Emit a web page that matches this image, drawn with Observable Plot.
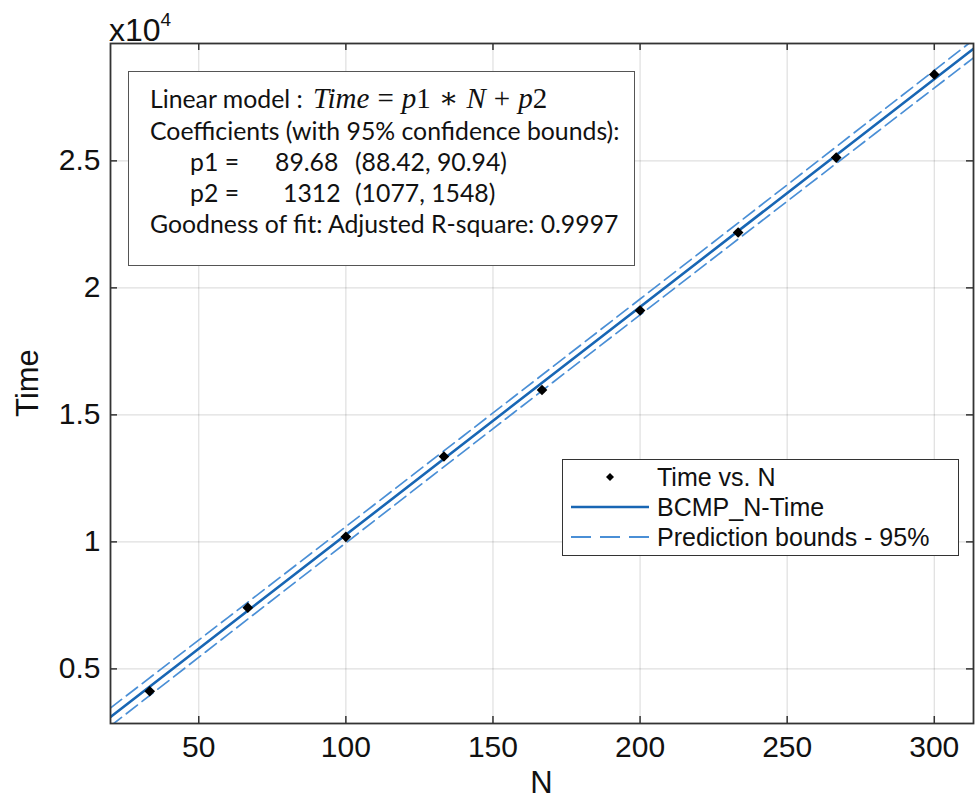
<!DOCTYPE html>
<html>
<head>
<meta charset="utf-8">
<script src="https://cdn.jsdelivr.net/npm/d3@7"></script>
<script src="https://cdn.jsdelivr.net/npm/@observablehq/plot@0.6"></script>
<style>
  html, body { margin: 0; padding: 0; background: #fff; }
  #wrap { position: relative; width: 976px; height: 805px; font-family: "Liberation Sans", Arial, sans-serif; color: #111; }
  #wrap svg { position: absolute; left: 0; top: 0; }
  .abs { position: absolute; white-space: nowrap; }
  #tbox { position: absolute; left: 128px; top: 71px; width: 505px; height: 193px; border: 1.5px solid #555; background: #fff; font-family: Lato, "Open Sans", sans-serif; font-size: 24.8px; color: #111; }
  #tbox .ln { position: absolute; height: 26px; line-height: 26px; white-space: nowrap; }
  .math { font-family: "Liberation Serif", "DejaVu Serif", serif; font-style: italic; font-size: 29px; margin-left: 4px; }
  .math .op { font-style: normal; margin: 0 8px; }
  .math .dg { font-style: normal; }
  #legend { position: absolute; left: 562px; top: 459px; width: 395px; height: 95px; border: 1.5px solid #333; background: #fff; font-family: "Liberation Sans", Arial, sans-serif; font-size: 25px; color: #111; }
  #legend .row { position: absolute; left: 0; height: 30px; width: 395px; }
  #legend .row span { position: absolute; left: 94px; top: 0; line-height: 30px; white-space: nowrap; }
  #legend .row svg { position: absolute; left: 6px; top: 0; }
</style>
</head>
<body>
<div id="wrap"></div>
<script>
// ---- data ----
const nValues = [33.33, 66.67, 100, 133.33, 166.67, 200, 233.33, 266.67, 300];
const timeValues = [4120, 7410, 10200, 13360, 15980, 19110, 22180, 25130, 28400];

// fitted line (Time = 89.68*N + 1312) at the ends of the axis range
const fitN = [20, 313.33];
const fitTime = [3106, 29411];

// 95% prediction bounds
const boundN = [20, 60, 100, 140, 166.67, 200, 240, 280, 313.33];
const boundUpper = [3460, 7028, 10600, 14179, 16569, 19560, 23155, 26757, 29766];
const boundLower = [2750, 6358, 9960, 13555, 15949, 18936, 22515, 26087, 29056];

const xTicks = [50, 100, 150, 200, 250, 300];
const yTicks = [5000, 10000, 15000, 20000, 25000];
const yTickLabels = ["0.5", "1", "1.5", "2", "2.5"];

const xDomain = [20, 313.33];
const yDomain = [2850, 29620];

const fitColor = "#1866b4";
const boundColor = "#4a8fd6";

// ---- tables ----
const points = nValues.map((n, i) => ({n, t: timeValues[i]}));
const fit = fitN.map((n, i) => ({n, t: fitTime[i]}));
const upper = boundN.map((n, i) => ({n, t: boundUpper[i]}));
const lower = boundN.map((n, i) => ({n, t: boundLower[i]}));

const W = 976, H = 805;
const mL = 110, mR = 3, mT = 43, mB = 82;
const frameW = W - mL - mR, frameH = H - mT - mB;
const tickLen = 7;

const chart = Plot.plot({
  width: W, height: H,
  marginLeft: mL, marginRight: mR, marginTop: mT, marginBottom: mB,
  x: {domain: xDomain, label: null},
  y: {domain: yDomain, label: null},
  style: {fontFamily: '"Liberation Sans", Arial, sans-serif', fontSize: "30px", color: "#111", background: "transparent"},
  marks: [
    Plot.ruleX(xTicks, {x: d => d, stroke: "#000", strokeOpacity: 0.13, strokeWidth: 1.2}),
    Plot.ruleY(yTicks, {y: d => d, stroke: "#000", strokeOpacity: 0.13, strokeWidth: 1.2}),
    Plot.line(upper, {x: "n", y: "t", stroke: boundColor, strokeWidth: 1.7, strokeDasharray: "14,6", curve: "natural", clip: true}),
    Plot.line(lower, {x: "n", y: "t", stroke: boundColor, strokeWidth: 1.7, strokeDasharray: "14,6", curve: "natural", clip: true}),
    Plot.line(fit, {x: "n", y: "t", stroke: fitColor, strokeWidth: 2.6, clip: true}),
    Plot.dot(points, {x: "n", y: "t", r: 4.8, fill: "#000", stroke: "none", symbol: "diamond2"}),
    // inward ticks on all four sides
    Plot.ruleX(xTicks, {x: d => d, stroke: "#333", strokeWidth: 1.5, insetTop: frameH - tickLen}),
    Plot.ruleX(xTicks, {x: d => d, stroke: "#333", strokeWidth: 1.5, insetBottom: frameH - tickLen}),
    Plot.ruleY(yTicks, {y: d => d, stroke: "#333", strokeWidth: 1.5, insetRight: frameW - tickLen}),
    Plot.ruleY(yTicks, {y: d => d, stroke: "#333", strokeWidth: 1.5, insetLeft: frameW - tickLen}),
    Plot.frame({stroke: "#333", strokeWidth: 1.8}),
    Plot.axisX(xTicks, {tickSize: 0, tickPadding: 12, fontSize: 30, label: null}),
    Plot.axisY(yTicks, {tickSize: 0, tickPadding: 10, fontSize: 30, label: null,
      tickFormat: d => yTickLabels[yTicks.indexOf(d)]})
  ]
});

const wrap = document.getElementById("wrap");
wrap.appendChild(chart);

function add(html) { wrap.insertAdjacentHTML("beforeend", html); }

// exponent label
add(`<div class="abs" style="left:109px; top:5px; font-size:32px; line-height:36px;">x10<sup style="font-size:19px; position:relative; top:-3px;">4</sup></div>`);
// axis titles
add(`<div class="abs" style="left:${mL}px; width:${frameW}px; text-align:center; top:${H - 40}px; font-size:31px; line-height:36px;">N</div>`);
add(`<div class="abs" style="left:28px; top:${mT + frameH / 2}px; font-size:31px; line-height:36px; transform: translate(-50%, -50%) rotate(-90deg);">Time</div>`);

// annotation text box
add(`<div id="tbox">
  <div class="ln" style="left:21px; top:13px;">Linear model : <span class="math">Time<span class="op">=</span>p<span class="dg">1</span><span class="op">∗</span>N<span class="op">+</span>p<span class="dg">2</span></span></div>
  <div class="ln" style="left:21px; top:46px;">Coefficients (with 95% confidence bounds):</div>
  <div class="ln" style="left:61px; top:77px;">p1 =</div>
  <div class="ln" style="left:146px; top:77px;">89.68</div>
  <div class="ln" style="left:226px; top:77px;">(88.42, 90.94)</div>
  <div class="ln" style="left:61px; top:108px;">p2 =</div>
  <div class="ln" style="left:154px; top:108px;">1312</div>
  <div class="ln" style="left:226px; top:108px;">(1077, 1548)</div>
  <div class="ln" style="left:21px; top:139px;">Goodness of fit: Adjusted R-square: 0.9997</div>
</div>`);

// legend
add(`<div id="legend">
  <div class="row" style="top:2px;"><svg width="82" height="30"><path d="M41,11 L45,15 L41,19 L37,15 Z" fill="#000"/></svg><span>Time vs. N</span></div>
  <div class="row" style="top:32px;"><svg width="82" height="30"><line x1="2" x2="80" y1="15" y2="15" stroke="${fitColor}" stroke-width="2.6"/></svg><span>BCMP_N-Time</span></div>
  <div class="row" style="top:62px;"><svg width="82" height="30"><line x1="2" x2="80" y1="15" y2="15" stroke="${boundColor}" stroke-width="1.8" stroke-dasharray="20,9"/></svg><span>Prediction bounds - 95%</span></div>
</div>`);
</script>
</body>
</html>
